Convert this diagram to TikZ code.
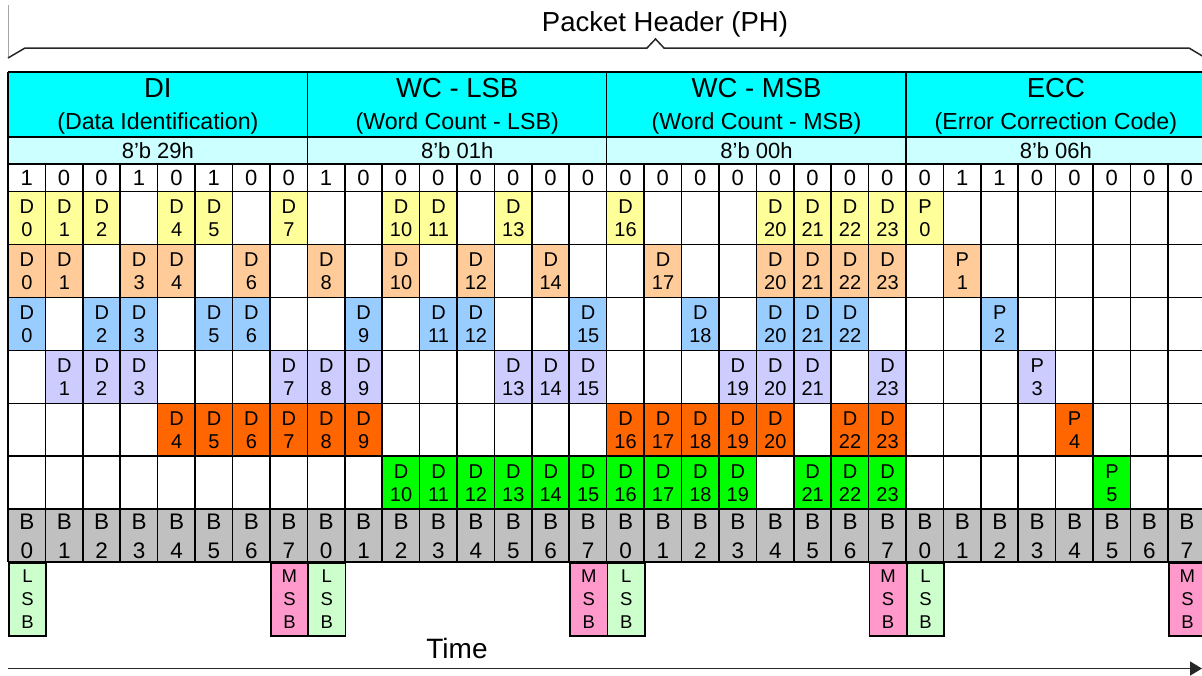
\documentclass[tikz,border=0pt]{standalone}
\usepackage{fontspec}
\setmainfont{Liberation Sans}
\usetikzlibrary{arrows.meta}
\definecolor{hdrcyan}{HTML}{00FFFF}
\definecolor{hexcyan}{HTML}{CCFFFF}
\definecolor{cyel}{HTML}{FFFF99}
\definecolor{clor}{HTML}{FFCC99}
\definecolor{clbl}{HTML}{99CCFF}
\definecolor{clav}{HTML}{CCCCFF}
\definecolor{corg}{HTML}{FF6600}
\definecolor{cgrn}{HTML}{00FF00}
\definecolor{cgry}{HTML}{C0C0C0}
\definecolor{clsb}{HTML}{CCFFCC}
\definecolor{cmsb}{HTML}{FF99CC}
\tikzset{
  gridline/.style={line width=1.6pt, black},
  cellbox/.style={anchor=north west, inner sep=0pt, minimum width=37.417pt, minimum height=52.95pt, align=center, font=\fontsize{20}{23}\selectfont},
  brow/.style={cellbox, fill=cgry, font=\fontsize{22.5}{29}\selectfont},
  sbox/.style={anchor=north west, inner sep=0pt, minimum width=37.417pt, minimum height=73pt, align=center, draw=black, line width=1.6pt, font=\fontsize{18.5}{23}\selectfont},
  hdrbox/.style={anchor=north west, inner sep=0pt, minimum width=299.33pt, minimum height=65pt, fill=hdrcyan, align=center, font=\fontsize{23.2}{32}\selectfont},
  hexbox/.style={anchor=north west, inner sep=0pt, minimum width=299.33pt, minimum height=27pt, fill=hexcyan, font=\fontsize{22}{24}\selectfont},
  bitlbl/.style={inner sep=0pt, font=\fontsize{22}{24}\selectfont},
  bigtxt/.style={inner sep=0pt, font=\fontsize{27.5}{32}\selectfont}
}
\begin{document}
\begin{tikzpicture}[x=1pt,y=-1pt]
\useasboundingbox (0,0) rectangle (1202,675);
\clip (0,0) rectangle (1202,675);
% header sections
\foreach \s/\t/\u/\h in {0/DI/(Data Identification)/29h, 1/WC - LSB/(Word Count - LSB)/01h, 2/WC - MSB/(Word Count - MSB)/00h, 3/ECC/(Error Correction Code)/06h}{
  \node[hdrbox] (hdr\s) at ({8+299.33*\s},72) {};
  \node[inner sep=0pt, align=center, font=\fontsize{23.2}{32}\selectfont] (hdrt\s) at ([yshift=-1.5pt]hdr\s.center) {{\fontsize{27.5}{32}\selectfont \t}\\\u};
  \node[hexbox] (hex\s) at ({8+299.33*\s},137) {8\symbol{"27}b \h};
}
% bits
\foreach \b [count=\i from 0] in {1,0,0,1,0,1,0,0, 1,0,0,0,0,0,0,0, 0,0,0,0,0,0,0,0, 0,1,1,0,0,0,0,0}{
  \node[bitlbl] (bit\i) at ({8+37.417*\i+18.7},177.8) {\b};
}
% colored data rows
\foreach \r/\col/\cols in {0/cyel/{0,1,2,4,5,7,10,11,13,16,20,21,22,23,24},
                          1/clor/{0,1,3,4,6,8,10,12,14,17,20,21,22,23,25},
                          2/clbl/{0,2,3,5,6,9,11,12,15,18,20,21,22,26},
                          3/clav/{1,2,3,7,8,9,13,14,15,19,20,21,23,27},
                          4/corg/{4,5,6,7,8,9,16,17,18,19,20,22,23,28},
                          5/cgrn/{10,11,12,13,14,15,16,17,18,19,21,22,23,29}}{
  \foreach \c in \cols {
    \ifnum\c<24 \def\L{D}\edef\N{\c}\else\def\L{P}\pgfmathtruncatemacro\N{\c-24}\fi
    \node[cellbox, fill=\col] (d\r-\c) at ({8+37.417*\c},{191.5+52.95*\r}) {\L\\\N};
  }
}
% B row
\foreach \c in {0,...,31}{
  \pgfmathtruncatemacro\bn{mod(\c,8)}
  \node[brow] (b\c) at ({8+37.417*\c},509.2) {B\\\bn};
}
% grid lines
\foreach \k in {0,...,7}{
  \draw[gridline] (8,{191.5+52.95*\k}) -- (1210,{191.5+52.95*\k});
}
\draw[gridline] (8,72) -- (1210,72);
\draw[gridline] (8,137) -- (1210,137);
\draw[gridline] (8,164) -- (1210,164);
\foreach \c in {0,...,32}{
  \draw[gridline] ({8+37.417*\c},164) -- ({8+37.417*\c},562.15);
}
\foreach \s in {0,...,4}{
  \draw[gridline] ({8+299.33*\s},72) -- ({8+299.33*\s},164);
}
% LSB / MSB
\foreach \c in {0,8,16,24}{
  \node[sbox, fill=clsb] (lsb\c) at ({8+37.417*\c},562.15) {L\\S\\B};
}
\foreach \c in {7,15,23,31}{
  \node[sbox, fill=cmsb] (msb\c) at ({8+37.417*\c},562.15) {M\\S\\B};
}
% packet header brace
\draw[line width=1pt, gray!70] (8,5) -- (8,58);
\coordinate (brL) at (8,58);
\coordinate (brR) at (1204,57);
\draw[line width=1.5pt, black!85, line join=miter] (brL) -- (25,48) -- (647,48) -- (655.5,39) -- (664,48) -- (1189,48) -- (brR);
\node[bigtxt] (ph) at (665,24) {Packet Header (PH)};
% time arrow
\node[bigtxt, font=\fontsize{28}{32}\selectfont] (time) at (457,648) {Time};
\coordinate (tA) at (8,668.5);
\coordinate (tB) at (1202,668.5);
\draw[line width=1.6pt, black!85, -{Triangle[length=12pt,width=14pt]}] (tA) -- (tB);
\end{tikzpicture}
\end{document}
